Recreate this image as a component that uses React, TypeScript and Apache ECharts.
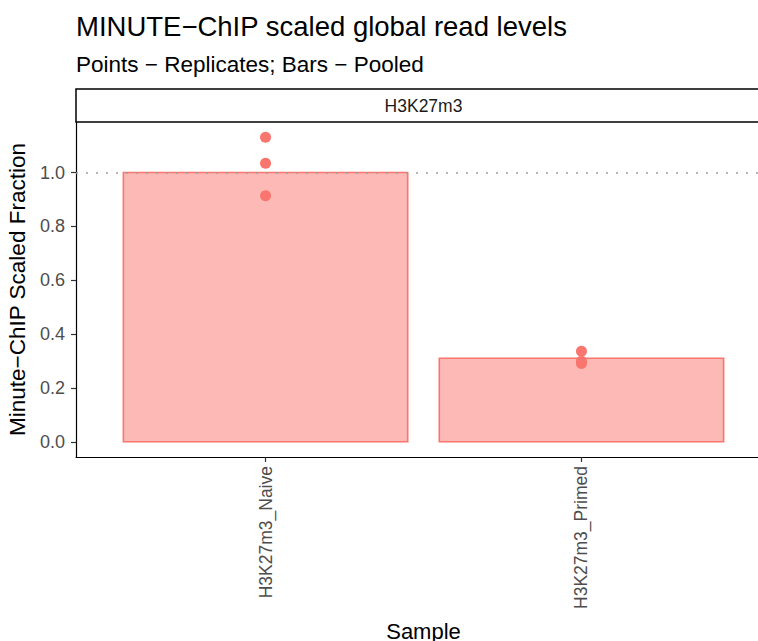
import React, { useEffect, useRef } from "react";
import * as echarts from "echarts";

const categories = ["H3K27m3_Naive", "H3K27m3_Primed"];
const pooledValues = [1.0, 0.31];
const naiveReplicates = [1.131, 1.034, 0.914];
const primedReplicates = [0.336, 0.299, 0.291];
const yTicks = [0, 0.2, 0.4, 0.6, 0.8, 1.0];
const referenceLine = 1.0;
const facetLabel = "H3K27m3";
const titleText = "MINUTE\u2212ChIP scaled global read levels";
const subtitleText = "Points \u2212 Replicates; Bars \u2212 Pooled";

const FONT = "'Liberation Sans', Arial, Helvetica, sans-serif";
const FILL = "#FCB9B5";
const SALMON = "#F8766D";

export default function App() {
  const ref = useRef<HTMLDivElement>(null);
  useEffect(() => {
    if (!ref.current) return;
    const chart = echarts.init(ref.current, null, { renderer: "svg" });
    const gridLeft = 76, gridTop = 122, gridWidth = 695, gridHeight = 335;
    const barData = pooledValues.map((v, i) => [i, v]);
    const pointData = [
      ...naiveReplicates.map((v) => [0, v]),
      ...primedReplicates.map((v) => [1, v]),
    ];
    chart.setOption({
      animation: false,
      textStyle: { fontFamily: FONT },
      grid: {
        left: gridLeft,
        top: gridTop,
        width: gridWidth,
        height: gridHeight,
        containLabel: false,
        outerBoundsMode: "none",
      },
      graphic: [
        {
          type: "text",
          left: 76,
          top: 12,
          style: { text: titleText, font: `27.5px ${FONT}`, fill: "#000" },
        },
        {
          type: "text",
          left: 76,
          top: 53,
          style: { text: subtitleText, font: `22.5px ${FONT}`, fill: "#000" },
        },
        {
          type: "rect",
          shape: { x: gridLeft, y: 89, width: gridWidth, height: 33 },
          style: { fill: "#fff", stroke: "#000", lineWidth: 1.5 },
          z: 10,
        },
        {
          type: "text",
          x: gridLeft + gridWidth / 2,
          y: 106,
          style: {
            text: facetLabel,
            font: `17.5px ${FONT}`,
            fill: "#1A1A1A",
            align: "center",
            verticalAlign: "middle",
          },
          z: 11,
        },
      ],
      xAxis: {
        type: "value",
        min: -0.6,
        max: 1.6,
        name: "Sample",
        nameLocation: "middle",
        nameGap: 163,
        nameTextStyle: { fontSize: 22, color: "#000", fontFamily: FONT },
        axisLine: { show: true, onZero: false, lineStyle: { color: "#000", width: 1.2 } },
        axisTick: { show: true, length: 5, customValues: [0, 1], lineStyle: { color: "#333", width: 1.2 } },
        axisLabel: {
          customValues: [0, 1],
          rotate: 90,
          margin: 9,
          fontSize: 17.5,
          color: "#4D4D4D",
          fontFamily: FONT,
          formatter: (v: number) => categories[Math.round(v)] ?? "",
        },
        splitLine: { show: false },
      },
      yAxis: {
        type: "value",
        min: -0.0566,
        max: 1.1876,
        name: "Minute\u2212ChIP Scaled Fraction",
        nameLocation: "middle",
        nameRotate: 90,
        nameGap: 43,
        nameTextStyle: { fontSize: 22.5, color: "#000", fontFamily: FONT },
        axisLine: { show: true, onZero: false, lineStyle: { color: "#000", width: 1.2 } },
        axisTick: { show: true, length: 5, customValues: yTicks, lineStyle: { color: "#333", width: 1.2 } },
        axisLabel: {
          customValues: yTicks,
          margin: 11,
          fontSize: 18,
          color: "#4D4D4D",
          fontFamily: FONT,
          formatter: (v: number) => v.toFixed(1),
        },
        splitLine: { show: false },
      },
      series: [
        {
          type: "custom",
          data: barData,
          encode: { x: 0, y: 1 },
          renderItem: (params: any, api: any) => {
            const x = api.value(0);
            const v = api.value(1);
            const p1 = api.coord([x - 0.45, v]);
            const p2 = api.coord([x + 0.45, 0]);
            return {
              type: "rect",
              shape: { x: p1[0], y: p1[1], width: p2[0] - p1[0], height: p2[1] - p1[1] },
              style: { fill: FILL, stroke: SALMON, lineWidth: 1.6 },
            };
          },
          z: 2,
        },
        {
          type: "line",
          data: [],
          z: 3,
          markLine: {
            silent: true,
            symbol: ["none", "none"],
            label: { show: false },
            lineStyle: { color: "#9E9E9E", type: [2, 8], width: 1.6 },
            data: [{ yAxis: referenceLine }],
          },
        },
        {
          type: "scatter",
          data: pointData,
          symbolSize: 11,
          itemStyle: { color: SALMON, opacity: 1 },
          z: 4,
        },
      ],
    });
    return () => chart.dispose();
  }, []);
  return (
    <div
      ref={ref}
      style={{ position: "fixed", left: 0, top: 0, width: 758, height: 641, background: "#fff" }}
    />
  );
}
